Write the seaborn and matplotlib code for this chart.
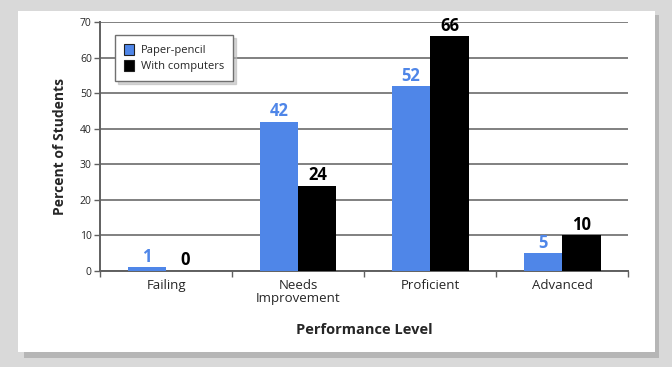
import pandas as pd
import seaborn as sns
import matplotlib.pyplot as plt
from matplotlib.patches import Rectangle

levels = ['Failing', 'Needs\nImprovement', 'Proficient', 'Advanced']
paper_pencil = [1, 42, 52, 5]
with_computers = [0, 24, 66, 10]
series = ['Paper-pencil', 'With computers']
colors = ['#4f86e8', '#000000']


def main():
    df = pd.DataFrame({
        'Level': levels * 2,
        'Percent': paper_pencil + with_computers,
        'Mode': [series[0]] * 4 + [series[1]] * 4,
    })

    sns.set_style('white')
    plt.rcParams['font.family'] = ['Open Sans', 'DejaVu Sans']

    fig = plt.figure(figsize=(6.72, 3.67), dpi=100, facecolor='#d9d9d9')
    # white panel with a soft shadow
    fig.patches.append(Rectangle((0.035, 0.025), 0.945, 0.935, transform=fig.transFigure,
                                 facecolor='#a0a0a0', edgecolor='none', alpha=0.6, zorder=-3))
    fig.patches.append(Rectangle((0.027, 0.04), 0.948, 0.93, transform=fig.transFigure,
                                 facecolor='white', edgecolor='none', zorder=-2))

    ax = fig.add_axes([0.149, 0.262, 0.786, 0.678])
    ax.set_facecolor('none')
    sns.barplot(data=df, x='Level', y='Percent', hue='Mode', palette=colors,
                width=0.58, gap=0, ax=ax, saturation=1, zorder=3, linewidth=0,
                edgecolor='none')

    for cont, col in zip(ax.containers, colors):
        ax.bar_label(cont, padding=1, color=col, fontsize=12, fontweight='bold')

    ax.set_ylim(0, 70)
    ax.set_xlim(-0.5, 3.5)
    ax.set_yticks(range(0, 71, 10))
    ax.yaxis.grid(True, color='#808080', linewidth=1.4, zorder=0)
    ax.set_axisbelow(True)
    ax.set_xticks([0, 1, 2, 3])
    ax.set_xticklabels(levels, fontsize=9.5, linespacing=1.0)
    ax.set_xticks([-0.5, 0.5, 1.5, 2.5, 3.5], minor=True)
    ax.tick_params(axis='x', which='major', length=0, pad=6)
    ax.tick_params(axis='x', which='minor', length=4, color='#606060', width=1, direction='out',
                   bottom=True)
    ax.tick_params(axis='y', length=4, color='#606060', width=1, direction='out', left=True,
                   labelsize=7.5, pad=2)

    for s in ['top', 'right']:
        ax.spines[s].set_visible(False)
    for s in ['left', 'bottom']:
        ax.spines[s].set_color('#606060')
        ax.spines[s].set_linewidth(1.4)

    ax.set_xlabel('Performance Level', fontsize=10.5, fontweight='bold', labelpad=13)
    ax.set_ylabel('Percent of Students', fontsize=10, fontweight='bold', labelpad=9)

    handles, labels = ax.get_legend_handles_labels()
    for h in handles:
        h.set_edgecolor('#202020')
        h.set_linewidth(0.8)
    leg = ax.legend(handles, labels, loc='upper left', bbox_to_anchor=(0.018, 0.97), fontsize=8,
                    frameon=True, fancybox=False, shadow={'color': '#bbbbbb', 'alpha': 0.6},
                    handlelength=0.9, handleheight=1.1, handletextpad=0.6, borderpad=0.8,
                    labelspacing=0.35)
    leg.get_frame().set_edgecolor('#707070')
    leg.get_frame().set_linewidth(1)

    fig.savefig('out.png', dpi=100, facecolor=fig.get_facecolor())


if __name__ == '__main__':
    main()
